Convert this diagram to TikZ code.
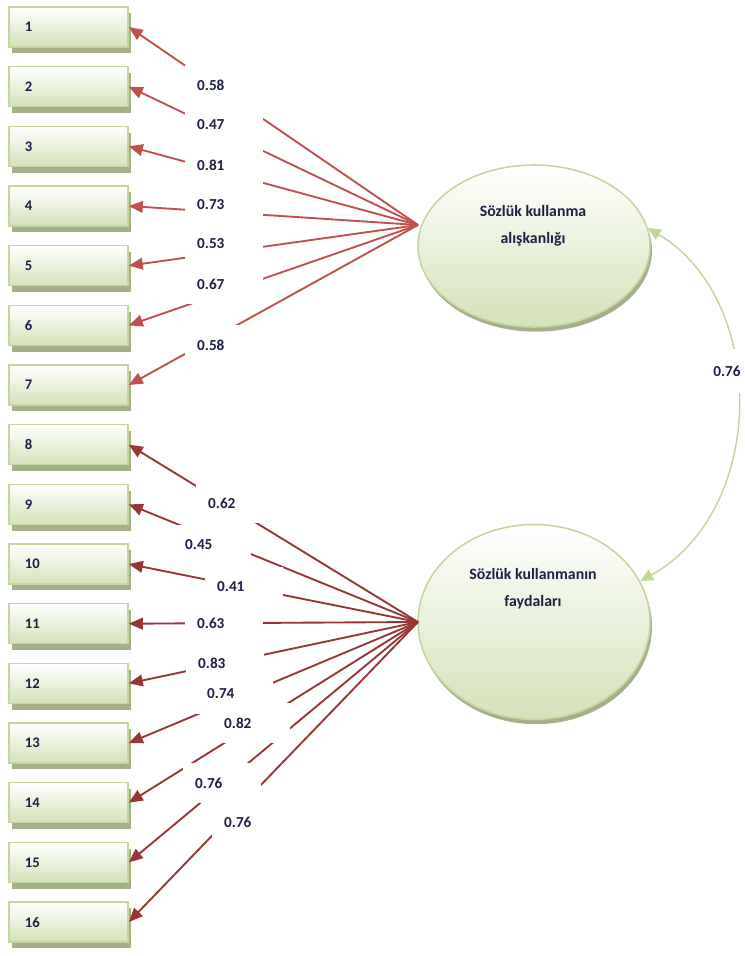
\documentclass[tikz,border=0pt]{standalone}
\usepackage{fontspec}
\setmainfont{Carlito}
\usetikzlibrary{arrows.meta}
\usetikzlibrary{shapes.geometric}
\usetikzlibrary{shadows}

\definecolor{boxline}{RGB}{195,214,155}
\definecolor{boxfill}{RGB}{212,226,184}
\definecolor{shade}{RGB}{165,176,138}
\definecolor{loadA}{RGB}{192,80,77}
\definecolor{loadB}{RGB}{150,55,53}
\definecolor{corrline}{RGB}{190,214,150}
\definecolor{numtext}{RGB}{30,32,70}

\tikzset{
	item/.style={draw=boxline,line width=1.3pt,top color=white,bottom color=boxfill,
		minimum width=3.57cm,minimum height=1.2cm,text width=2.61cm,inner xsep=0.48cm,
		align=left,text=numtext,font=\bfseries\fontsize{12.5}{14}\selectfont,
		drop shadow={shadow xshift=0.1cm,shadow yshift=-0.19cm,fill=shade,opacity=1}},
	factor/.style={ellipse,draw=boxline,line width=1.3pt,top color=white,bottom color=boxfill,
		inner sep=0pt,minimum width=6.96cm,
		drop shadow={shadow xshift=0.06cm,shadow yshift=-0.14cm,fill=shade,opacity=1}},
	ftext/.style={align=center,text=numtext,font=\bfseries\fontsize{13.5}{23}\selectfont},
	coef/.style={fill=white,minimum width=2.34cm,minimum height=1.2cm,text width=1.62cm,
		inner xsep=0.36cm,align=left,anchor=west,text=numtext,font=\bfseries\fontsize{13}{14}\selectfont},
	loadtop/.style={draw=loadA,line width=1.6pt,-{Triangle[length=12pt,width=10pt]}},
	loadbot/.style={draw=loadB,line width=1.6pt,-{Triangle[length=12pt,width=10pt]}},
	covar/.style={draw=corrline,line width=1.2pt,{Triangle[length=11pt,width=10pt]}-{Triangle[length=11pt,width=10pt]}}
}

\begin{document}
\begin{tikzpicture}[x=0.03cm,y=-0.03cm]
	\useasboundingbox (0,0) rectangle (744,956);
	% observed items
	\foreach \i in {1,...,16}
		\node[item] (v\i) at (68.5,{27+59.67*(\i-1)}) {\i};
	% latent factors
	\node[factor,minimum height=4.86cm] (fac1) at (534,246) {};
	\node[ftext] (t1) at (533,226) {Sözlük kullanma\\alışkanlığı};
	\node[factor,minimum height=5.85cm] (fac2) at (534,622) {};
	\node[ftext] (t2) at (533,589) {Sözlük kullanmanın\\faydaları};
	\coordinate (h1) at (418,225);
	\coordinate (h2) at (418,622);
	% loadings
	\foreach \i in {1,...,7}
		\draw[loadtop] (h1) -- (v\i.east);
	\foreach \i in {8,...,16}
		\draw[loadbot] (h2) -- (v\i.east);
	\foreach \x/\y/\t [count=\k] in {185/85/0.58,185/125/0.47,185/165/0.81,185/205/0.73,
			185/244/0.53,185/284/0.67,185/345/0.58,196/503/0.62,173/545/0.45,205/587/0.41,
			185/623/0.63,186/663/0.83,195/694/0.74,212/723/0.82,183/783/0.76,212/822/0.76}
		\node[coef] (c\k) at (\x,\y) {\t};
	% correlation
	\draw[covar] (fac1.9) .. controls (768,300) and (768,510) .. (fac2.21);
	\node[fill=white,text=numtext,font=\bfseries\fontsize{13}{14}\selectfont,minimum height=1.3cm] (r) at (727,371) {0.76};
\end{tikzpicture}
\end{document}
